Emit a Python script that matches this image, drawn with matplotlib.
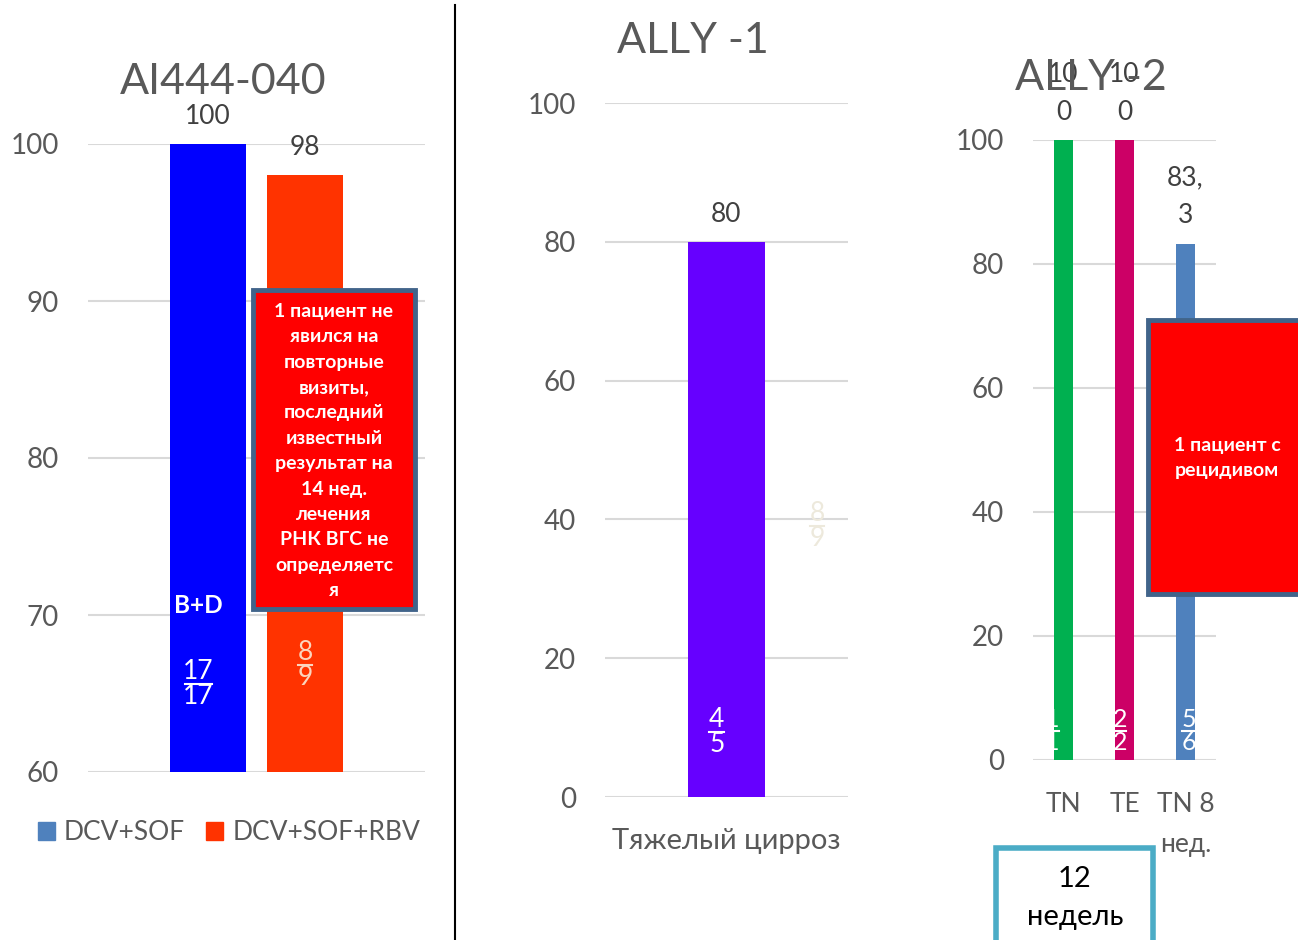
import matplotlib.pyplot as plt
from matplotlib.patches import Patch, Rectangle
from matplotlib.lines import Line2D

plt.rcParams['font.family'] = ['Lato', 'DejaVu Sans']

# === Data ===
ai_series = ["DCV+SOF", "DCV+SOF+RBV"]
ai_values = [100, 98]
ai_colors = ["#0000ff", "#ff3300"]
ai_legend_colors = ["#4f81bd", "#ff3300"]
ai_fracs = [("17", "17"), ("8", "9")]

ally1_cats = ["Тяжелый цирроз"]
ally1_values = [80]
ally1_frac = ("4", "5")

ally2_cats = ["TN", "TE", "TN 8\nнед."]
ally2_values = [100, 100, 83.3]
ally2_labels = ["10\n0", "10\n0", "83,\n3"]
ally2_colors = ["#00b050", "#cc0066", "#4f81bd"]
ally2_fracs = [("1", "1"), ("2", "2"), ("5", "6")]

grid_c = "#d9d9d9"
txt_c = "#595959"
lab_c = "#404040"

fig = plt.figure(figsize=(12.98, 9.4), dpi=100)
W, H = 1298, 940


def px_axes(x0, y_top, x1, y_bot):
    return fig.add_axes([x0 / W, 1 - y_bot / H, (x1 - x0) / W, (y_bot - y_top) / H])


def style(ax, ticks):
    ax.set_yticks(ticks)
    ax.yaxis.grid(True, color=grid_c, lw=1.5)
    ax.set_axisbelow(True)
    for s in ax.spines.values():
        s.set_visible(False)
    ax.tick_params(axis="y", length=0, pad=21, labelsize=20, labelcolor=txt_c)
    ax.tick_params(axis="x", length=0, pad=23, labelsize=19, labelcolor=txt_c)


def fraction(ax, x, y_line, num, den, color, size, half=0.12):
    ax.text(x, y_line, num, ha="center", va="bottom", color=color, fontsize=size)
    ax.text(x, y_line, den, ha="center", va="top", color=color, fontsize=size)
    ax.plot([x - half, x + half], [y_line, y_line], color=color, lw=1.5)


# === 1. AI444-040 ===
ax1 = px_axes(88, 144, 425, 772)
xs = [0, 1]
ax1.bar(xs, ai_values, width=0.78, color=ai_colors)
ax1.set_ylim(60, 100)
ax1.set_xlim(-1.237, 2.237)
style(ax1, [60, 70, 80, 90, 100])
ax1.set_xticks([])
for x, v in zip(xs, ai_values):
    ax1.annotate(str(v), (x, v), xytext=(0, 11), textcoords="offset points",
                 ha="center", va="bottom", fontsize=19, color=lab_c, annotation_clip=False)
ax1.set_title("AI444-040", fontsize=31, color=txt_c, pad=36, x=0.40)
fraction(ax1, -0.1, 65.6, *ai_fracs[0], "white", 19, half=0.14)
fraction(ax1, 1.0, 66.8, *ai_fracs[1], "#fbd4bd", 19, half=0.07)
ax1.text(-0.1, 70.6, "B+D", ha="center", va="center", color="white",
         fontsize=17.5, fontweight="bold")

fig.legend(handles=[Patch(color=c, label=l) for c, l in zip(ai_legend_colors, ai_series)],
           loc="center", bbox_to_anchor=(229 / W, 1 - 833 / H), ncol=2, frameon=False,
           fontsize=19, handlelength=0.65, handleheight=0.65, handletextpad=0.35,
           columnspacing=0.8, labelcolor=txt_c)

# annotation box 1
fig.add_artist(Rectangle((253 / W, 1 - 609 / H), 162 / W, 319 / H, transform=fig.transFigure,
                         facecolor="#ff0000", edgecolor="#41648a", lw=3.5))
fig.text(334 / W, 1 - 451 / H,
         "1 пациент не\nявился на\nповторные\nвизиты,\nпоследний\nизвестный\nрезультат на\n"
         "14 нед.\nлечения\nРНК ВГС не\nопределяетс\nя",
         ha="center", va="center", color="white", fontsize=14, fontweight="bold",
         linespacing=1.6)

# === 2. ALLY -1 ===
ax2 = px_axes(605, 103, 848, 797)
ax2.bar([0], ally1_values, width=0.317, color="#6600ff")
ax2.set_ylim(0, 100)
ax2.set_xlim(-0.5, 0.5)
style(ax2, range(0, 101, 20))
ax2.set_xticks([0])
ax2.set_xticklabels(ally1_cats, fontsize=21)
ax2.tick_params(axis="x", pad=22)
ax2.annotate(str(ally1_values[0]), (0, ally1_values[0]), xytext=(0, 11), textcoords="offset points",
             ha="center", va="bottom", fontsize=19, color=lab_c)
ax2.set_title("ALLY -1", fontsize=31, color=txt_c, pad=36, x=0.362)
fraction(ax2, -0.04, 9.4, *ally1_frac, "white", 19, half=0.03)
fraction(ax2, 0.372, 39.0, "8", "9", "#ede9dc", 19, half=0.03)

# === 3. ALLY -2 ===
ax3 = px_axes(1033, 140, 1216, 760)
xs3 = [0, 1, 2]
ax3.bar(xs3, ally2_values, width=0.31, color=ally2_colors)
ax3.set_ylim(0, 100)
ax3.set_xlim(-0.5, 2.5)
style(ax3, range(0, 101, 20))
ax3.set_xticks(xs3)
ax3.set_xticklabels(ally2_cats, linespacing=1.75)
ax3.get_xticklabels()[0].set_x(-0.12)
for x, v, l in zip(xs3, ally2_values, ally2_labels):
    ax3.annotate(l, (x, v), xytext=(0, 11), textcoords="offset points", ha="center",
                 va="bottom", fontsize=19, color=lab_c, linespacing=1.65, annotation_clip=False)
ax3.set_title("ALLY -2", fontsize=31, color=txt_c, pad=36, x=0.317)
for x, (n, d), dx in zip(xs3, ally2_fracs, [-0.18, -0.07, 0.05]):
    fraction(ax3, x + dx, 4.7, n, d, "white", 18, half=0.1)

fig.add_artist(Rectangle((1148 / W, 1 - 594 / H), 170 / W, 274 / H, transform=fig.transFigure,
                         facecolor="#ff0000", edgecolor="#41648a", lw=3.5, clip_on=False))
fig.text(1227 / W, 1 - 458 / H, "1 пациент с\nрецидивом", ha="center", va="center",
         color="white", fontsize=14, fontweight="bold", linespacing=1.52)

fig.add_artist(Rectangle((996 / W, -0.02), 157 / W, (H - 848) / H + 0.02,
                         transform=fig.transFigure, facecolor="white",
                         edgecolor="#4bacc6", lw=4))
fig.text(1075 / W, 1 - 898 / H, "12\nнедель", ha="center", va="center",
         color="black", fontsize=21, linespacing=1.58)

# separator
fig.add_artist(Line2D([455 / W, 455 / W], [0, 1 - 5 / H], color="black", lw=1.5))

plt.savefig("out.png", dpi=100)
